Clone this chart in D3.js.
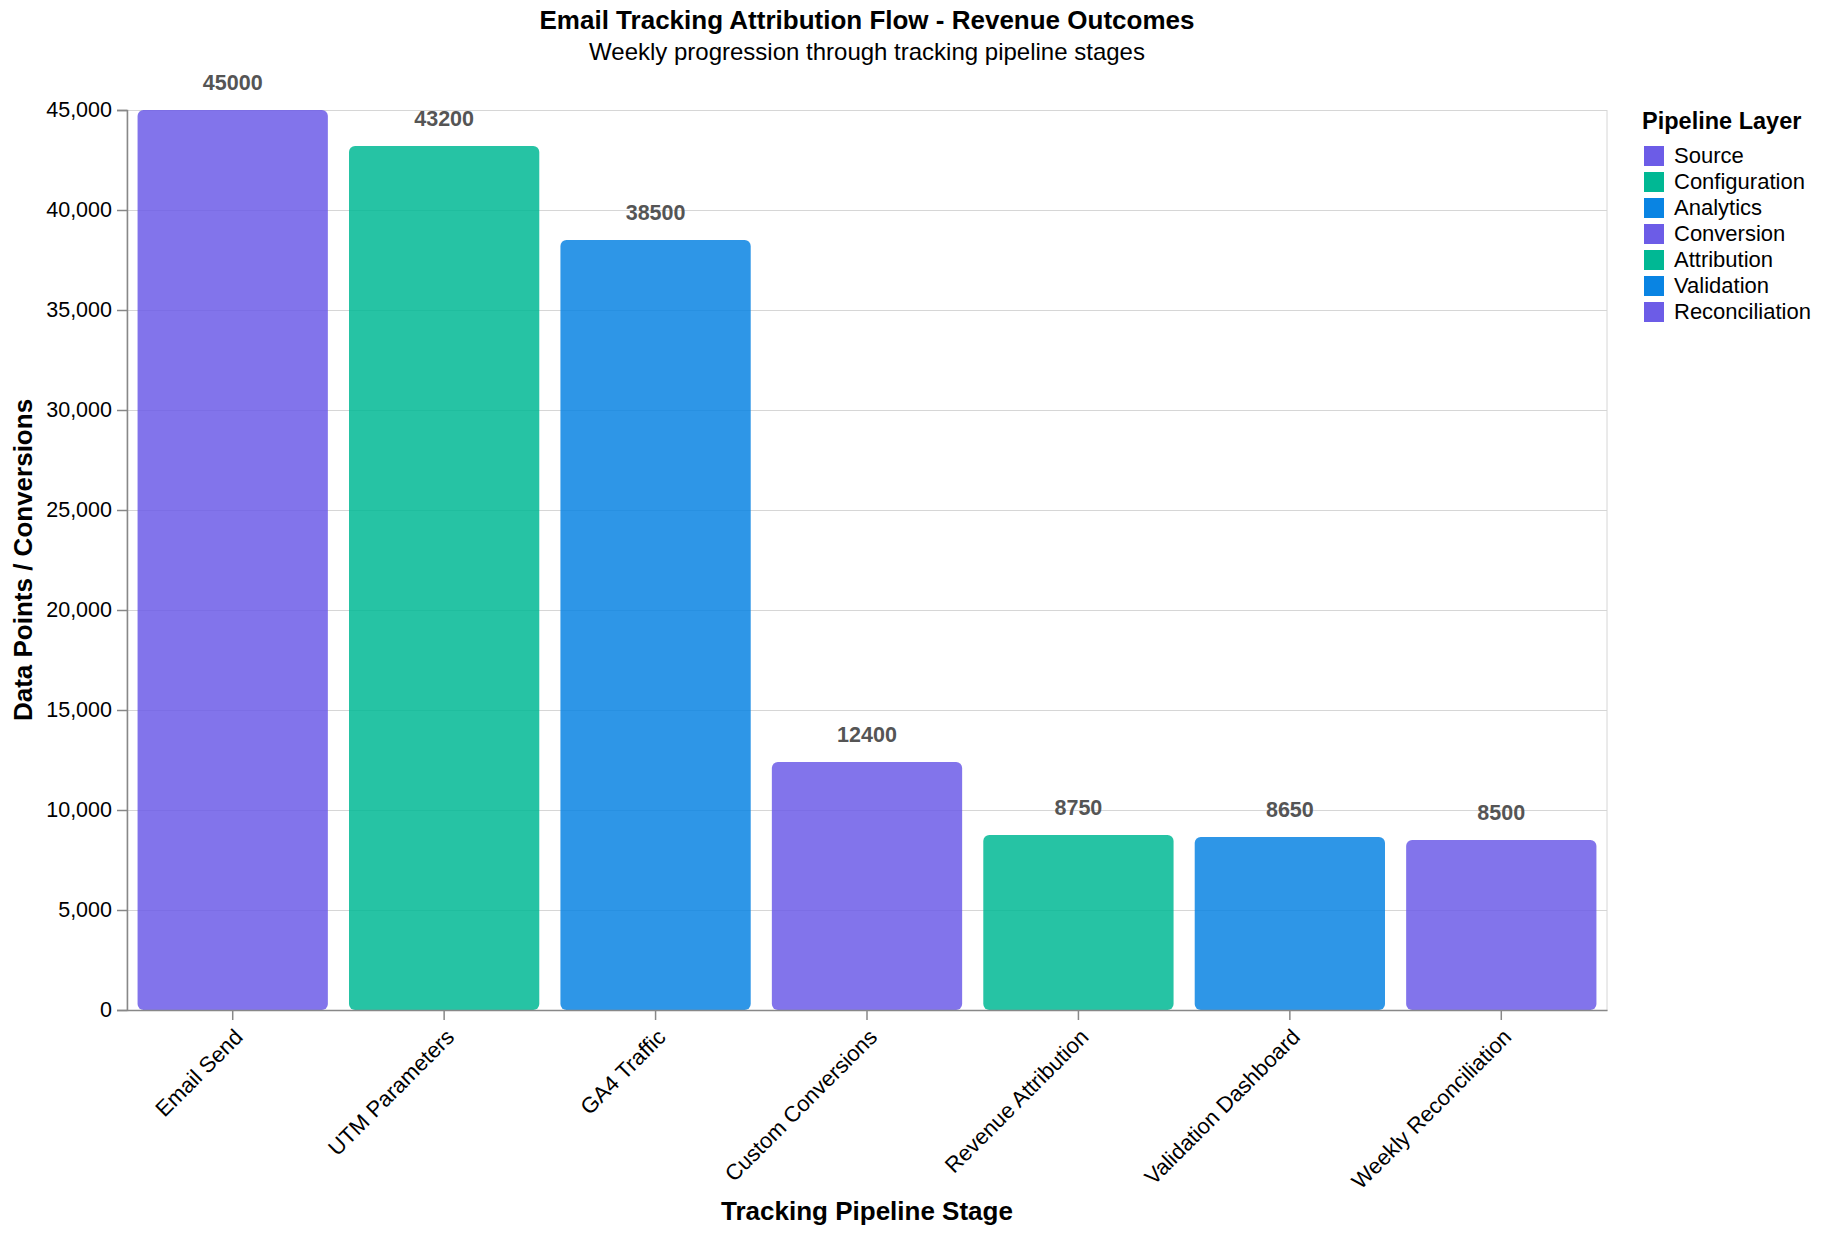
<!DOCTYPE html>
<html>
<head>
<meta charset="utf-8">
<script src="https://cdn.jsdelivr.net/npm/d3@7"></script>
<style>
  html, body { margin: 0; padding: 0; background: #fff; }
  svg text { font-family: "Liberation Sans", Arial, Helvetica, sans-serif; }
</style>
</head>
<body>
<svg id="chart" width="1822" height="1236"></svg>
<script>
const stages = ["Email Send", "UTM Parameters", "GA4 Traffic", "Custom Conversions", "Revenue Attribution", "Validation Dashboard", "Weekly Reconciliation"];
const values = [45000, 43200, 38500, 12400, 8750, 8650, 8500];
const layers = ["Source", "Configuration", "Analytics", "Conversion", "Attribution", "Validation", "Reconciliation"];
const layerColors = ["#6c5ce7", "#00b894", "#0984e3", "#6c5ce7", "#00b894", "#0984e3", "#6c5ce7"];
const yTicks = [0, 5000, 10000, 15000, 20000, 25000, 30000, 35000, 40000, 45000];

const data = stages.map((s, i) => ({ stage: s, value: values[i], layer: layers[i] }));

const svg = d3.select("#chart");
const L = 127, R = 1607, T = 110, B = 1010;

const x = d3.scaleBand().domain(stages).range([L, R]).paddingInner(0.1).paddingOuter(0.05);
const y = d3.scaleLinear().domain([0, 45000]).range([B, T]);
const color = d3.scaleOrdinal().domain(layers).range(layerColors);

// grid
svg.append("g").selectAll("line").data(yTicks).join("line")
  .attr("x1", L).attr("x2", R)
  .attr("y1", d => y(d) + 0.5).attr("y2", d => y(d) + 0.5)
  .attr("stroke", "#d6d6d6").attr("stroke-width", 1);
// view border
svg.append("rect").attr("x", L).attr("y", T + 0.5).attr("width", R - L).attr("height", B - T)
  .attr("fill", "none").attr("stroke", "#d6d6d6").attr("stroke-width", 1);

// bars
svg.append("g").selectAll("rect").data(data).join("rect")
  .attr("x", d => x(d.stage))
  .attr("y", d => y(d.value))
  .attr("width", x.bandwidth())
  .attr("height", d => y(0) - y(d.value))
  .attr("rx", 6).attr("ry", 6)
  .attr("fill", d => color(d.layer))
  .attr("fill-opacity", 0.85);

// bar labels
svg.append("g").selectAll("text").data(data).join("text")
  .attr("x", d => x(d.stage) + x.bandwidth() / 2)
  .attr("y", d => y(d.value) - 20)
  .attr("text-anchor", "middle")
  .attr("font-size", "21.5px").attr("font-weight", "bold")
  .attr("fill", "#555")
  .text(d => d.value);

// y axis
const yAxis = d3.axisLeft(y).tickValues(yTicks).tickSize(10).tickPadding(5).tickFormat(d3.format(","));
const gy = svg.append("g").attr("transform", `translate(${L},0)`).call(yAxis);
gy.select(".domain").attr("stroke", "#888").attr("stroke-width", 1.5);
gy.selectAll(".tick line").attr("stroke", "#888").attr("stroke-width", 1.5);
gy.selectAll(".tick text").attr("font-size", "21.5px").attr("fill", "#000")
  .attr("font-family", "Liberation Sans, Arial, sans-serif");

// x axis
const xAxis = d3.axisBottom(x).tickSize(10).tickPadding(4).tickSizeOuter(0);
const gx = svg.append("g").attr("transform", `translate(0,${B})`).call(xAxis);
gx.select(".domain").attr("stroke", "#888").attr("stroke-width", 1.5);
gx.selectAll(".tick line").attr("stroke", "#888").attr("stroke-width", 1.5);
gx.selectAll(".tick text")
  .attr("font-size", "22px").attr("fill", "#000")
  .attr("font-family", "Liberation Sans, Arial, sans-serif")
  .attr("text-anchor", "end")
  .attr("dy", "0.35em")
  .attr("transform", "translate(6,23) rotate(-45)")
  .attr("y", 0).attr("x", 0);

// titles
svg.append("text").attr("x", (L + R) / 2).attr("y", 29).attr("text-anchor", "middle")
  .attr("font-size", "26px").attr("font-weight", "bold").attr("fill", "#000")
  .text("Email Tracking Attribution Flow - Revenue Outcomes");
svg.append("text").attr("x", (L + R) / 2).attr("y", 60).attr("text-anchor", "middle")
  .attr("font-size", "24px").attr("fill", "#000")
  .text("Weekly progression through tracking pipeline stages");

svg.append("text").attr("transform", `translate(32,${(T + B) / 2}) rotate(-90)`)
  .attr("text-anchor", "middle").attr("font-size", "26px").attr("font-weight", "bold")
  .text("Data Points / Conversions");
svg.append("text").attr("x", (L + R) / 2).attr("y", 1220).attr("text-anchor", "middle")
  .attr("font-size", "26px").attr("font-weight", "bold")
  .text("Tracking Pipeline Stage");

// legend
const lg = svg.append("g");
lg.append("text").attr("x", 1642).attr("y", 129)
  .attr("font-size", "23.5px").attr("font-weight", "bold").text("Pipeline Layer");
const items = lg.selectAll("g.item").data(layers).join("g").attr("class", "item")
  .attr("transform", (d, i) => `translate(1644,${146 + i * 26})`);
items.append("rect").attr("width", 20).attr("height", 20).attr("fill", d => color(d));
items.append("text").attr("x", 30).attr("y", 10).attr("dy", "0.33em")
  .attr("font-size", "22px").attr("fill", "#000").text(d => d);
</script>
</body>
</html>
